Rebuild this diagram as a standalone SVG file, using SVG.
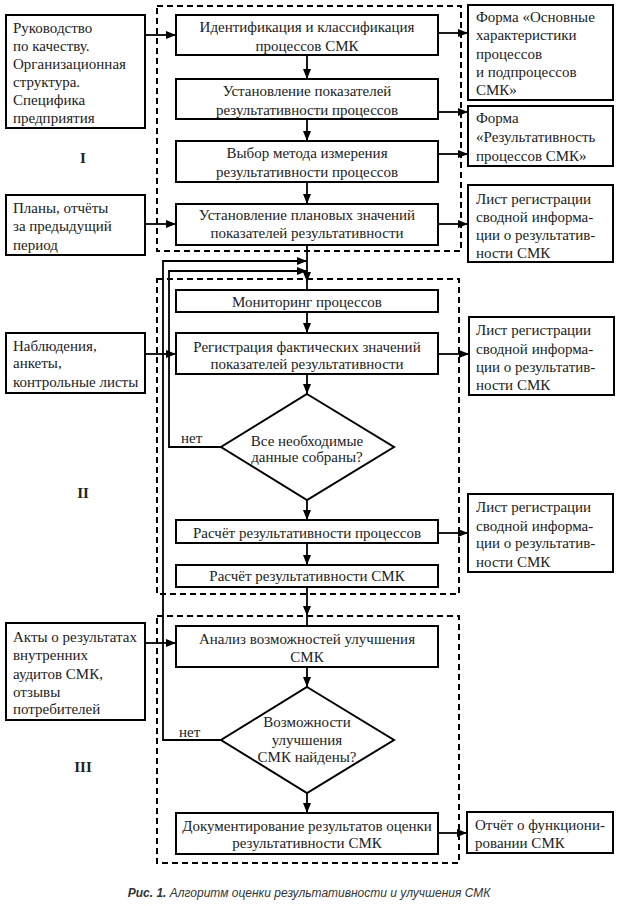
<svg xmlns="http://www.w3.org/2000/svg" width="623" height="906" viewBox="0 0 623 906">
<style>
.b{fill:#fff;stroke:#000;stroke-width:2}
.d{fill:none;stroke:#000;stroke-width:2;stroke-dasharray:6,4}
.c{fill:none;stroke:#000;stroke-width:1.8}
text{font-family:"Liberation Serif","DejaVu Serif",serif;font-size:15px;fill:#222}
.m{text-anchor:middle}
.r{font-weight:bold;font-size:15px}
.cap{font-family:"Liberation Sans",Arial,sans-serif;font-size:12px;font-style:italic;fill:#333}
</style>
<defs>
<marker id="a" markerWidth="10" markerHeight="8" refX="10" refY="4" orient="auto" markerUnits="userSpaceOnUse"><path d="M0,0 L10,4 L0,8 z" fill="#000"/></marker>
</defs>
<rect x="0" y="0" width="623" height="906" fill="#fff"/>
<g id="stages">
<rect class="d" x="157" y="6" width="304" height="245"/>
<rect class="d" x="157" y="279" width="302" height="315"/>
<rect class="d" x="157" y="616" width="302" height="247"/>
<text class="m r" x="83" y="163">I</text>
<text class="m r" x="83" y="498">II</text>
<text class="m r" x="83" y="772">III</text>
</g>
<g id="connectors">
<path class="c" d="M145,35 H176" marker-end="url(#a)"/>
<path class="c" d="M145,224 H176" marker-end="url(#a)"/>
<path class="c" d="M438,33 H468" marker-end="url(#a)"/>
<path class="c" d="M438,112 H468" marker-end="url(#a)"/>
<path class="c" d="M438,154 H468" marker-end="url(#a)"/>
<path class="c" d="M438,224 H468" marker-end="url(#a)"/>
<path class="c" d="M307,55 V79" marker-end="url(#a)"/>
<path class="c" d="M307,119 V141" marker-end="url(#a)"/>
<path class="c" d="M307,182 V204" marker-end="url(#a)"/>
<path class="c" d="M307,245 V282" marker-end="url(#a)"/>
<path class="c" d="M307,282 V290"/>
<path class="c" d="M221,740 H163 V261 H307" marker-end="url(#a)"/>
<path class="c" d="M221,447 H169 V271 H307" marker-end="url(#a)"/>
<path class="c" d="M145,354 H176" marker-end="url(#a)"/>
<path class="c" d="M307,312 V333" marker-end="url(#a)"/>
<path class="c" d="M438,354 H469" marker-end="url(#a)"/>
<path class="c" d="M307,374 V394" marker-end="url(#a)"/>
<path class="c" d="M307,500 V520" marker-end="url(#a)"/>
<path class="c" d="M438,533 H468" marker-end="url(#a)"/>
<path class="c" d="M307,543 V565" marker-end="url(#a)"/>
<path class="c" d="M307,587 V616" marker-end="url(#a)"/>
<path class="c" d="M307,616 V626"/>
<path class="c" d="M145,643 H176" marker-end="url(#a)"/>
<path class="c" d="M307,667 V687" marker-end="url(#a)"/>
<path class="c" d="M307,793 V813" marker-end="url(#a)"/>
<path class="c" d="M438,833 H467" marker-end="url(#a)"/>
<text x="181" y="443">нет</text>
<text x="179" y="737">нет</text>
</g>
<g id="in1"><rect class="b" x="6" y="15" width="139" height="113"/>
<text x="13" y="33">Руководство</text><text x="13" y="51">по качеству.</text><text x="13" y="69">Организационная</text><text x="13" y="87">структура.</text><text x="13" y="105">Специфика</text><text x="13" y="123">предприятия</text></g>
<g id="in2"><rect class="b" x="6" y="195" width="139" height="60"/>
<text x="13" y="213">Планы, отчёты</text><text x="13" y="231">за предыдущий</text><text x="13" y="250">период</text></g>
<g id="in3"><rect class="b" x="6" y="333" width="139" height="60"/>
<text x="13" y="351">Наблюдения,</text><text x="13" y="368">анкеты,</text><text x="13" y="387">контрольные листы</text></g>
<g id="in4"><rect class="b" x="6" y="623" width="139" height="97"/>
<text x="13" y="642">Акты о результатах</text><text x="13" y="660">внутренних</text><text x="13" y="679">аудитов СМК,</text><text x="13" y="697">отзывы</text><text x="13" y="714">потребителей</text></g>
<g id="b1"><rect class="b" x="176" y="15" width="262" height="40"/>
<text class="m" x="307" y="32">Идентификация и классификация</text><text class="m" x="307" y="51">процессов СМК</text></g>
<g id="b2"><rect class="b" x="176" y="79" width="262" height="40"/>
<text class="m" x="307" y="96">Установление показателей</text><text class="m" x="307" y="115">результативности процессов</text></g>
<g id="b3"><rect class="b" x="176" y="141" width="262" height="41"/>
<text class="m" x="307" y="158">Выбор метода измерения</text><text class="m" x="307" y="177">результативности процессов</text></g>
<g id="b4"><rect class="b" x="176" y="204" width="262" height="41"/>
<text class="m" x="307" y="220">Установление плановых значений</text><text class="m" x="307" y="238">показателей результативности</text></g>
<g id="b5"><rect class="b" x="176" y="290" width="262" height="22"/>
<text class="m" x="307" y="307">Мониторинг процессов</text></g>
<g id="b6"><rect class="b" x="176" y="333" width="262" height="41"/>
<text class="m" x="307" y="352">Регистрация фактических значений</text><text class="m" x="307" y="369">показателей результативности</text></g>
<g id="d1"><path class="b" d="M307,394 L394,447 L307,500 L221,447 Z"/>
<text class="m" x="307" y="446">Все необходимые</text><text class="m" x="307" y="462">данные собраны?</text></g>
<g id="b7"><rect class="b" x="176" y="520" width="262" height="23"/>
<text class="m" x="307" y="538">Расчёт результативности процессов</text></g>
<g id="b8"><rect class="b" x="176" y="565" width="262" height="22"/>
<text class="m" x="307" y="581">Расчёт результативности СМК</text></g>
<g id="b9"><rect class="b" x="176" y="626" width="262" height="41"/>
<text class="m" x="307" y="644">Анализ возможностей улучшения</text><text class="m" x="307" y="662">СМК</text></g>
<g id="d2"><path class="b" d="M307,687 L394,740 L307,793 L221,740 Z"/>
<text class="m" x="307" y="727">Возможности</text><text class="m" x="307" y="745">улучшения</text><text class="m" x="307" y="762">СМК найдены?</text></g>
<g id="b10"><rect class="b" x="176" y="813" width="262" height="41"/>
<text class="m" x="307" y="831">Документирование результатов оценки</text><text class="m" x="307" y="848">результативности СМК</text></g>
<g id="o1"><rect class="b" x="468" y="5" width="145" height="95"/>
<text x="476" y="22">Форма «Основные</text><text x="476" y="40">характеристики</text><text x="476" y="59">процессов</text><text x="476" y="77">и подпроцессов</text><text x="476" y="95">СМК»</text></g>
<g id="o2"><rect class="b" x="468" y="106" width="145" height="60"/>
<text x="476" y="123">Форма</text><text x="476" y="142">«Результативность</text><text x="476" y="161">процессов СМК»</text></g>
<g id="o3"><rect class="b" x="468" y="185" width="145" height="77"/>
<text x="476" y="204">Лист регистрации</text><text x="476" y="222">сводной информа-</text><text x="476" y="240">ции о результатив-</text><text x="476" y="258">ности СМК</text></g>
<g id="o4"><rect class="b" x="469" y="317" width="145" height="78"/>
<text x="476" y="335">Лист регистрации</text><text x="476" y="354">сводной информа-</text><text x="476" y="372">ции о результатив-</text><text x="476" y="390">ности СМК</text></g>
<g id="o5"><rect class="b" x="468" y="494" width="145" height="78"/>
<text x="476" y="512">Лист регистрации</text><text x="476" y="531">сводной информа-</text><text x="476" y="548">ции о результатив-</text><text x="476" y="567">ности СМК</text></g>
<g id="o6"><rect class="b" x="467" y="812" width="146" height="41"/>
<text x="475" y="830">Отчёт о функциони-</text><text x="475" y="848">ровании СМК</text></g>
<text class="cap" x="309" y="897" text-anchor="middle"><tspan font-weight="bold">Рис. 1.</tspan> Алгоритм оценки результативности и улучшения СМК</text>
</svg>
